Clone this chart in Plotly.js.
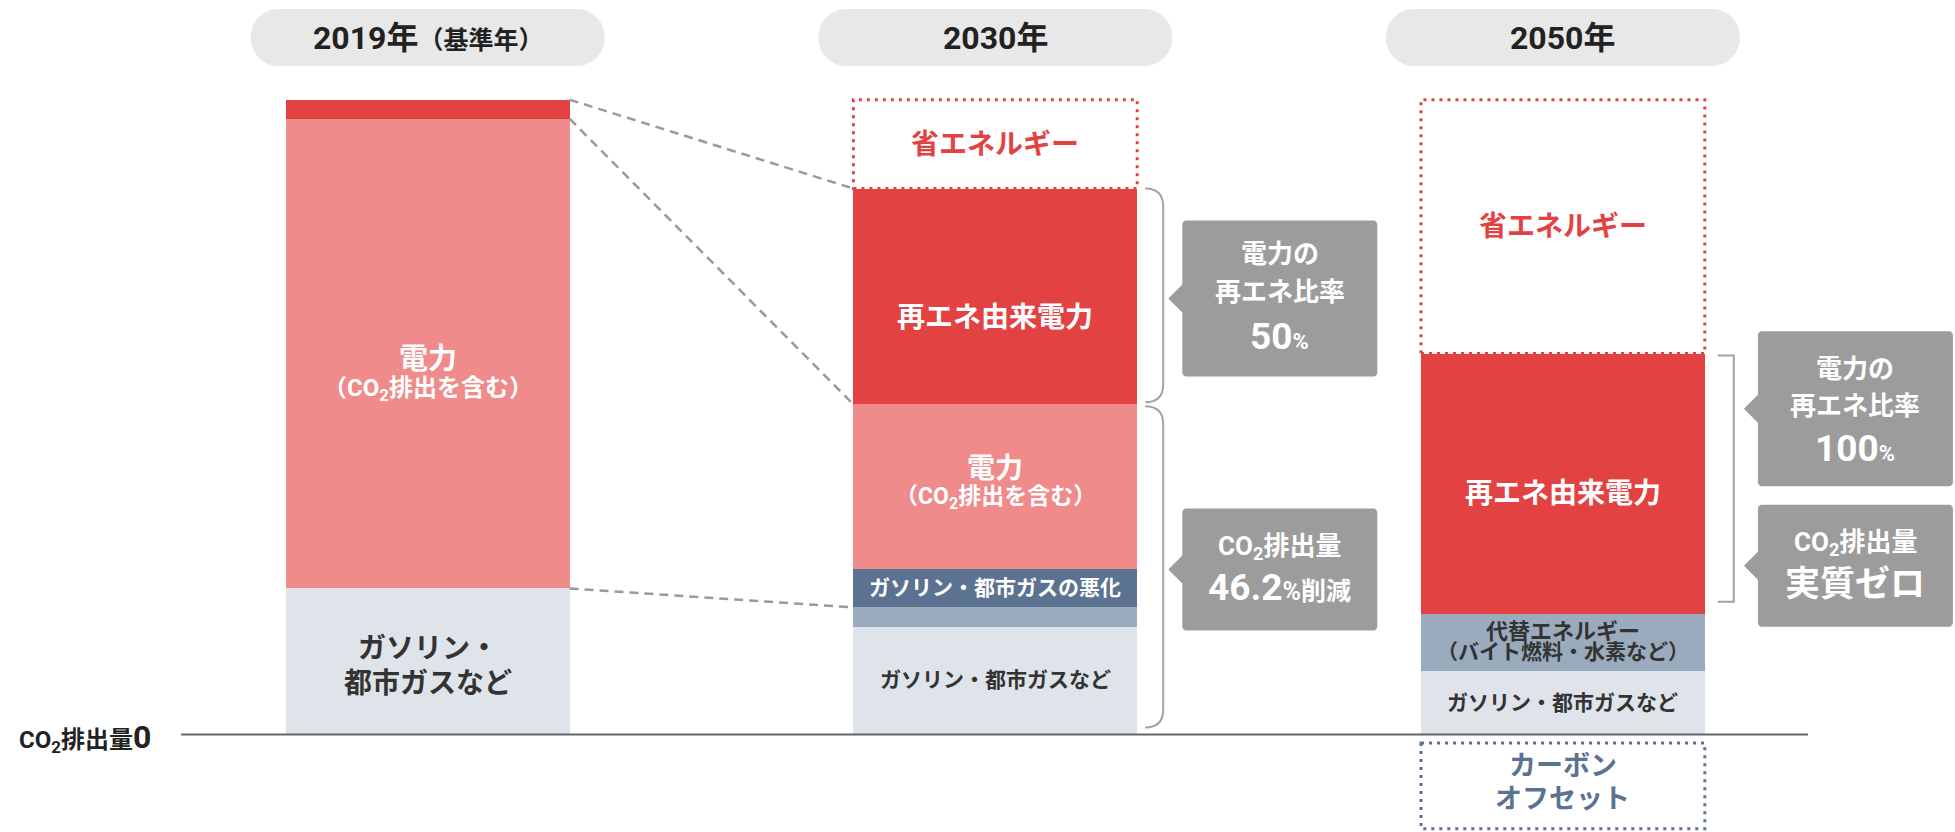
<!DOCTYPE html>
<html>
<head>
<meta charset="utf-8">
<script src="https://cdn.plot.ly/plotly-3.0.1.min.js"></script>
<style>
  html, body { margin: 0; padding: 0; background: #fff; }
  #chart { width: 1955px; height: 832px; }
</style>
</head>
<body>
<div id="chart"></div>
<script>
// columns
var years = ['2019年', '2030年', '2050年'];
var yearNotes = ['（基準年）', '', ''];

// CO2 emission shares (2019 = 100), stacked bottom -> top
var gasoline   = [23, 17, 10];   // ガソリン・都市ガスなど
var altEnergy  = [0, 3, 9];      // 代替エネルギー
var gasElec    = [0, 6, 0];      // ガソリン・都市ガスの悪化
var power      = [74, 26, 0];    // 電力（CO2排出を含む）
var renewPower = [3, 34, 41];    // 再エネ由来電力
var saving     = [0, 14, 40];    // 省エネルギー
var offset     = [0, 0, 13.5];   // カーボンオフセット (below zero)

// callout texts
var renewRatio = ['', '50', '100'];
var co2Result  = ['', '46.2', '実質ゼロ'];

var F = "Roboto, 'Noto Sans CJK JP', sans-serif";
var RED = '#e34242', PINK = '#ef8b8b', GREY = '#dfe3ea', SLATE = '#5b7290', SLATE_L = '#9aabbd';
var BOX = '#9c9c9c', LINE = '#a3a3a3';

// px per axis unit, fixed by the axis ranges below
var UX = 567.6, UY = 6.347;
var HALF = 0.25;

var stacks = [gasoline, altEnergy, gasElec, power, renewPower, saving];
var colors = [GREY, SLATE_L, SLATE, PINK, RED, 'rgba(0,0,0,0)'];
var bottoms = stacks.map(function () { return []; });
var tops = stacks.map(function () { return []; });
for (var i = 0; i < years.length; i++) {
  var acc = 0;
  for (var s = 0; s < stacks.length; s++) {
    bottoms[s][i] = acc;
    acc += stacks[s][i];
    tops[s][i] = acc;
  }
}
function mid(s, i) { return bottoms[s][i] + stacks[s][i] / 2; }

var data = stacks.map(function (vals, s) {
  return {
    type: 'bar', x: [0, 1, 2], y: vals, width: HALF * 2,
    marker: { color: colors[s], line: { width: 0 } },
    hoverinfo: 'skip', showlegend: false
  };
});

var shapes = [];
var annotations = [];

function ann(x, y, text, size, color, yshift, extra) {
  var a = {
    x: x, y: y, xref: 'x', yref: 'y', text: text, showarrow: false,
    font: { family: F, size: size, color: color, weight: 700 },
    yshift: yshift || 0, xanchor: 'center', yanchor: 'middle'
  };
  for (var k in extra) a[k] = extra[k];
  annotations.push(a);
}

// rounded rectangle path (x, y in axis units, r in px)
function rrect(x0, x1, y0, y1, r) {
  var rx = r / UX, ry = r / UY, k = 0.5523;
  return 'M' + (x0 + rx) + ',' + y1 +
    ' L' + (x1 - rx) + ',' + y1 +
    ' C' + (x1 - rx + k * rx) + ',' + y1 + ' ' + x1 + ',' + (y1 - ry + k * ry) + ' ' + x1 + ',' + (y1 - ry) +
    ' L' + x1 + ',' + (y0 + ry) +
    ' C' + x1 + ',' + (y0 + ry - k * ry) + ' ' + (x1 - rx + k * rx) + ',' + y0 + ' ' + (x1 - rx) + ',' + y0 +
    ' L' + (x0 + rx) + ',' + y0 +
    ' C' + (x0 + rx - k * rx) + ',' + y0 + ' ' + x0 + ',' + (y0 + ry - k * ry) + ' ' + x0 + ',' + (y0 + ry) +
    ' L' + x0 + ',' + (y1 - ry) +
    ' C' + x0 + ',' + (y1 - ry + k * ry) + ' ' + (x0 + rx - k * rx) + ',' + y1 + ' ' + (x0 + rx) + ',' + y1 + ' Z';
}

// year pills
var pillTop = 115.7 - 9 / UY, pillBot = 115.7 - 66 / UY, pillW = 354 / UX;
years.forEach(function (yr, i) {
  shapes.push({
    type: 'path', xref: 'x', yref: 'y', path: rrect(i - pillW / 2, i + pillW / 2, pillBot, pillTop, 28),
    fillcolor: '#e8e8e8', line: { width: 0 }, layer: 'below'
  });
  var t = yr + (yearNotes[i] ? '<span style="font-size:25px">' + yearNotes[i] + '</span>' : '');
  ann(i, (pillTop + pillBot) / 2, t, 32, '#222', 0);
});

// zero line + label
shapes.push({ type: 'line', xref: 'x', yref: 'y', x0: (181 - 427.7) / UX, x1: (1808 - 427.7) / UX, y0: 0, y1: 0,
  line: { color: '#666', width: 2 } });
ann((153 - 427.7) / UX, 0, 'CO<sub>2</sub>排出量<span style="font-size:32px">0</span>', 24, '#222', -3, { xanchor: 'right' });

// dotted boxes for energy saving and carbon offset
years.forEach(function (yr, i) {
  if (saving[i] > 0) {
    shapes.push({ type: 'rect', xref: 'x', yref: 'y', x0: i - HALF, x1: i + HALF,
      y0: bottoms[5][i], y1: tops[5][i], line: { color: RED, width: 3, dash: '3px,5px' } });
    ann(i, mid(5, i), '省エネルギー', 28, RED, 0);
  }
  if (offset[i] > 0) {
    var gap = 8.6 / UY;
    shapes.push({ type: 'rect', xref: 'x', yref: 'y', x0: i - HALF, x1: i + HALF,
      y0: -gap, y1: -gap - offset[i], line: { color: SLATE, width: 3, dash: '3px,5px' } });
    var oc = -gap - offset[i] / 2;
    ann(i, oc, 'カーボン', 27, SLATE, 20);
    ann(i, oc, 'オフセット', 27, SLATE, -13);
  }
});

// dashed connectors 2019 -> 2030
[[4, 4], [3, 3], [0, 1]].forEach(function (p) {
  shapes.push({ type: 'line', xref: 'x', yref: 'y', x0: HALF, x1: 1 - HALF,
    y0: tops[p[0]][0], y1: tops[p[1]][1],
    line: { color: '#9a9a9a', width: 2.5, dash: '9px,6px' } });
});

// segment labels
ann(0, mid(3, 0), '電力', 29, '#fff', -5);
ann(0, mid(3, 0), '（CO<sub>2</sub>排出を含む）', 24, '#fff', -36);
ann(0, mid(0, 0), 'ガソリン・', 28, '#333', 13);
ann(0, mid(0, 0), '都市ガスなど', 28, '#333', -22);

ann(1, mid(4, 1), '再エネ由来電力', 28, '#fff', -21);
ann(1, mid(3, 1), '電力', 28, '#fff', 18);
ann(1, mid(3, 1), '（CO<sub>2</sub>排出を含む）', 23, '#fff', -11);
ann(1, mid(2, 1), 'ガソリン・都市ガスの悪化', 21, '#fff', 0);
ann(1, mid(0, 1), 'ガソリン・都市ガスなど', 21, '#333', 0);

ann(2, mid(4, 2), '再エネ由来電力', 28, '#fff', -10);
ann(2, mid(1, 2), '代替エネルギー', 22, '#333', 11);
ann(2, mid(1, 2), '（バイト燃料・水素など）', 21, '#333', -10);
ann(2, mid(0, 2), 'ガソリン・都市ガスなど', 21, '#333', 0);

// braces and callouts
function callout(i, leftPx, yc, hPx) {
  var x0 = i + leftPx / UX, x1 = x0 + 195 / UX;
  var h = hPx / 2 / UY;
  var tip = x0 - 14 / UX, th = 14 / UY;
  shapes.push({ type: 'path', xref: 'x', yref: 'y', fillcolor: BOX, line: { width: 0 },
    path: rrect(x0, x1, yc - h, yc + h, 4) + ' M' + x0 + ',' + (yc + th) + ' L' + tip + ',' + yc + ' L' + x0 + ',' + (yc - th) + ' Z' });
  return (x0 + x1) / 2;
}
function roundBrace(i, yTop, yBot) {
  var x0 = i + (HALF * UX + 8) / UX, x1 = x0 + 18 / UX, ry = 18 / UY;
  shapes.push({ type: 'path', xref: 'x', yref: 'y', line: { color: LINE, width: 2 },
    path: 'M' + x0 + ',' + yTop + ' Q' + x1 + ',' + yTop + ' ' + x1 + ',' + (yTop - ry) +
      ' L' + x1 + ',' + (yBot + ry) + ' Q' + x1 + ',' + yBot + ' ' + x0 + ',' + yBot });
}

// 2030
roundBrace(1, tops[4][1], tops[3][1] + 2 / UY);
roundBrace(1, tops[3][1] - 2 / UY, 7 / UY);
var c1 = mid(4, 1) - 2 / UY;
var cx = callout(1, 187, c1, 156);
ann(cx, c1, '電力の', 26, '#fff', 44);
ann(cx, c1, '再エネ比率', 26, '#fff', 6);
ann(cx, c1, renewRatio[1] + '<span style="font-size:22px">%</span>', 37, '#fff', -38);
var c2 = tops[3][1] / 2;
cx = callout(1, 187, c2, 122);
ann(cx, c2, 'CO<sub>2</sub>排出量', 26, '#fff', 22);
ann(cx, c2, co2Result[1] + '<span style="font-size:25px">%削減</span>', 37, '#fff', -18);

// 2050 square bracket
var bx0 = 2 + (HALF * UX + 13) / UX, bx1 = bx0 + 16 / UX;
var bTop = tops[4][2] - 2 / UY, bBot = bottoms[4][2] + 12 / UY;
shapes.push({ type: 'path', xref: 'x', yref: 'y', line: { color: LINE, width: 2 },
  path: 'M' + bx0 + ',' + bTop + ' L' + bx1 + ',' + bTop + ' L' + bx1 + ',' + bBot + ' L' + bx0 + ',' + bBot });
var bMid = (bTop + bBot) / 2;
var c3 = bMid + 70 / UY;
cx = callout(2, 195, c3, 155);
ann(cx, c3, '電力の', 26, '#fff', 40);
ann(cx, c3, '再エネ比率', 26, '#fff', 3);
ann(cx, c3, renewRatio[2] + '<span style="font-size:22px">%</span>', 37, '#fff', -40);
var c4 = bMid - 87 / UY;
cx = callout(2, 195, c4, 122);
ann(cx, c4, 'CO<sub>2</sub>排出量', 26, '#fff', 22);
ann(cx, c4, co2Result[2], 35, '#fff', -19);

var layout = {
  width: 1955, height: 832,
  margin: { l: 0, r: 0, t: 0, b: 0 },
  paper_bgcolor: '#fff', plot_bgcolor: '#fff',
  barmode: 'stack',
  showlegend: false,
  xaxis: { range: [-427.7 / UX, (1955 - 427.7) / UX], visible: false, fixedrange: true },
  yaxis: { range: [-(832 - 734.4) / UY, 734.4 / UY], visible: false, fixedrange: true },
  shapes: shapes,
  annotations: annotations
};

Plotly.newPlot('chart', data, layout, { staticPlot: true });
</script>
</body>
</html>
